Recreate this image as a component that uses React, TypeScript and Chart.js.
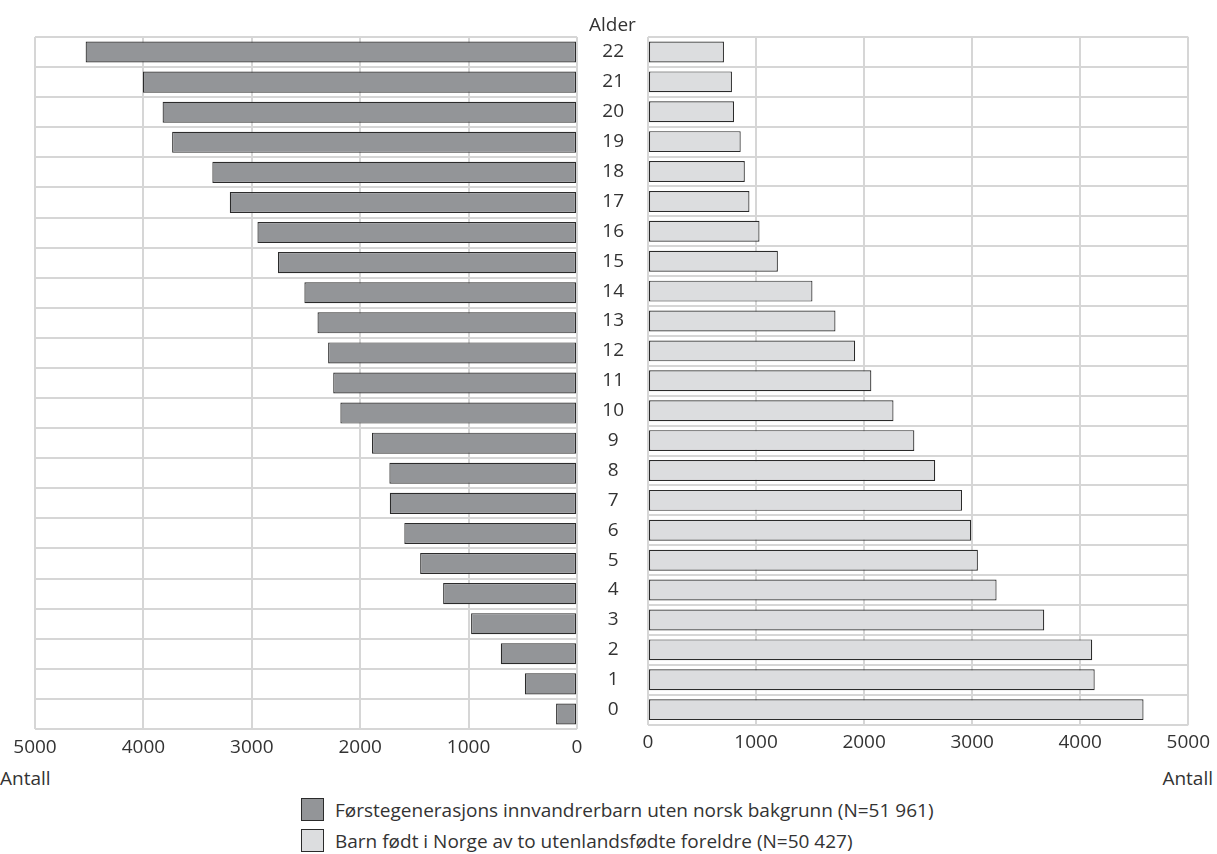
import React, { useEffect, useRef } from 'react';
import { Chart, registerables } from 'chart.js';

Chart.register(...registerables);

// Age categories (bottom to top)
const ages = ['0', '1', '2', '3', '4', '5', '6', '7', '8', '9', '10', '11', '12', '13', '14', '15', '16', '17', '18', '19', '20', '21', '22'];

// Førstegenerasjons innvandrerbarn uten norsk bakgrunn
const firstGeneration = [193, 481, 703, 977, 1235, 1447, 1593, 1727, 1731, 1891, 2183, 2249, 2296, 2394, 2515, 2759, 2948, 3203, 3364, 3735, 3823, 4005, 4533];

// Barn født i Norge av to utenlandsfødte foreldre
const bornInNorway = [4586, 4134, 4111, 3667, 3226, 3053, 2991, 2906, 2658, 2465, 2272, 2067, 1917, 1735, 1522, 1202, 1032, 939, 896, 858, 796, 777, 703];

const axisMin = 0;
const axisMax = 5000;
const axisStep = 1000;

const seriesLabels = [
  'Førstegenerasjons innvandrerbarn uten norsk bakgrunn (N=51 961)',
  'Barn født i Norge av to utenlandsfødte foreldre (N=50 427)',
];
const ageTitle = 'Alder';
const countTitle = 'Antall';

const FONT = "'Open Sans', 'DejaVu Sans', sans-serif";
const TEXT = '#333333';
const GRID = '#d6d6d6';
const DARK_FILL = '#939598';
const LIGHT_FILL = '#dcdddf';
const EDGE = '#2b2b2b';

export default function App() {
  const leftRef = useRef<HTMLCanvasElement>(null);
  const rightRef = useRef<HTMLCanvasElement>(null);

  useEffect(() => {
    const tickFont = { family: FONT, size: 19 };
    const gridOpts = { color: GRID, lineWidth: 2, drawTicks: false };
    const plain = (v: any) => String(v);

    const left = new Chart(leftRef.current as HTMLCanvasElement, {
      type: 'bar',
      data: {
        labels: ages,
        datasets: [
          {
            label: seriesLabels[0],
            data: firstGeneration,
            backgroundColor: DARK_FILL,
            borderColor: EDGE,
            borderWidth: 1.2,
            borderSkipped: false,
            barPercentage: 0.7,
            categoryPercentage: 1,
          },
        ],
      },
      options: {
        indexAxis: 'y',
        animation: false,
        responsive: false,
        layout: { padding: { left: 35, right: 23, top: 37, bottom: 0 } },
        plugins: { legend: { display: false }, tooltip: { enabled: false } },
        scales: {
          x: {
            reverse: true,
            min: axisMin,
            max: axisMax,
            ticks: { stepSize: axisStep, padding: 7, color: TEXT, font: tickFont, callback: plain },
            grid: gridOpts,
            border: { display: false },
            afterFit: (s: any) => {
              s.height = 31;
            },
          },
          y: {
            position: 'right',
            reverse: true,
            ticks: { display: false },
            grid: { ...gridOpts, offset: true },
            border: { display: false },
            afterFit: (s: any) => {
              s.width = 0;
            },
          },
        },
      } as any,
    });

    const right = new Chart(rightRef.current as HTMLCanvasElement, {
      type: 'bar',
      data: {
        labels: ages,
        datasets: [
          {
            label: seriesLabels[1],
            data: bornInNorway,
            backgroundColor: LIGHT_FILL,
            borderColor: EDGE,
            borderWidth: 1.2,
            borderSkipped: false,
            barPercentage: 0.7,
            categoryPercentage: 1,
          },
        ],
      },
      options: {
        indexAxis: 'y',
        animation: false,
        responsive: false,
        layout: { padding: { left: 0, right: 27, top: 37, bottom: 0 } },
        plugins: { legend: { display: false }, tooltip: { enabled: false } },
        scales: {
          x: {
            min: axisMin,
            max: axisMax,
            ticks: { stepSize: axisStep, padding: 7, color: TEXT, font: tickFont, callback: plain },
            grid: gridOpts,
            border: { display: false },
            afterFit: (s: any) => {
              s.height = 31;
            },
          },
          y: {
            position: 'left',
            reverse: true,
            ticks: { padding: 24, crossAlign: 'center', color: TEXT, font: tickFont },
            grid: { ...gridOpts, offset: true },
            border: { display: false },
            afterFit: (s: any) => {
              s.width = 71;
            },
          },
        },
      } as any,
    });

    return () => {
      left.destroy();
      right.destroy();
    };
  }, []);

  const textStyle: React.CSSProperties = {
    position: 'absolute',
    fontFamily: FONT,
    fontSize: 19,
    color: TEXT,
    lineHeight: '24px',
    whiteSpace: 'nowrap',
  };

  const box = (fill: string): React.CSSProperties => ({
    position: 'absolute',
    width: 23,
    height: 23,
    background: fill,
    border: `1px solid ${EDGE}`,
    boxSizing: 'border-box',
  });

  return (
    <div
      style={{
        position: 'fixed',
        left: 0,
        top: 0,
        width: 1217,
        height: 854,
        background: '#ffffff',
        overflow: 'hidden',
      }}
    >
      <canvas ref={leftRef} width={600} height={760} style={{ position: 'absolute', left: 0, top: 0 }} />
      <canvas ref={rightRef} width={640} height={760} style={{ position: 'absolute', left: 577, top: 0 }} />
      <div style={{ ...textStyle, left: 589, top: 12 }}>{ageTitle}</div>
      <div style={{ ...textStyle, left: 0, top: 766 }}>{countTitle}</div>
      <div style={{ ...textStyle, right: 4, top: 766, textAlign: 'right' }}>{countTitle}</div>
      <div style={{ ...box(DARK_FILL), left: 301, top: 798 }} />
      <div style={{ ...textStyle, left: 335, top: 798 }}>{seriesLabels[0]}</div>
      <div style={{ ...box(LIGHT_FILL), left: 301, top: 829 }} />
      <div style={{ ...textStyle, left: 335, top: 829 }}>{seriesLabels[1]}</div>
    </div>
  );
}
